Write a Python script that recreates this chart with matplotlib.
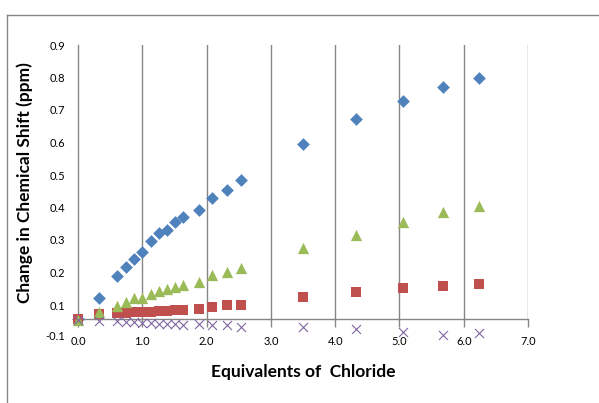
import numpy as np
import matplotlib
matplotlib.use("Agg")
import matplotlib.pyplot as plt
from matplotlib.lines import Line2D

# equivalents of chloride (x) and chemical shift change of each proton (y)
equiv = [0.0, 0.32, 0.60, 0.74, 0.87, 1.00, 1.13, 1.26, 1.38, 1.51, 1.64,
         1.88, 2.09, 2.32, 2.53, 3.50, 4.33, 5.05, 5.68, 6.23]
shift_blue = [0.057, 0.122, 0.188, 0.216, 0.241, 0.263, 0.296, 0.321, 0.331, 0.355,
              0.372, 0.391, 0.430, 0.455, 0.486, 0.595, 0.671, 0.729, 0.772, 0.798]
shift_red = [0.056, 0.072, 0.074, 0.076, 0.077, 0.078, 0.080, 0.082, 0.082, 0.085,
             0.085, 0.088, 0.095, 0.099, 0.101, 0.126, 0.139, 0.153, 0.159, 0.166]
shift_green = [0.055, 0.079, 0.097, 0.109, 0.121, 0.122, 0.134, 0.144, 0.148, 0.156,
               0.162, 0.172, 0.192, 0.201, 0.215, 0.274, 0.315, 0.354, 0.387, 0.405]
shift_purple = [0.055, 0.051, 0.052, 0.049, 0.047, 0.046, 0.044, 0.042, 0.042, 0.041,
                0.039, 0.041, 0.038, 0.037, 0.033, 0.033, 0.026, 0.017, 0.008, 0.013]

xticks = [0, 1, 2, 3, 4, 5, 6, 7]
xtick_labels = ["0.0", "1.0", "2.0", "3.0", "4.0", "5.0", "6.0", "7.0"]
ytick_pos = [0.005, 0.1, 0.2, 0.3, 0.4, 0.5, 0.6, 0.7, 0.8, 0.9]
ytick_labels = ["-0.1", "0.1", "0.2", "0.3", "0.4", "0.5", "0.6", "0.7", "0.8", "0.9"]
axis_cross = 0.057

plt.rcParams['font.family'] = ['Lato', 'DejaVu Sans']
grey = '#868686'

fig = plt.figure(figsize=(5.99, 4.03), dpi=100)
ax = fig.add_axes([78/599, 1-337.5/403, 450/599, (337.5-45)/403])

ax.scatter(equiv, shift_blue, marker='D', s=42, color='#4F81BD', zorder=3, clip_on=False, linewidths=0)
ax.scatter(equiv, shift_red, marker='s', s=60, color='#C0504D', zorder=3, clip_on=False, linewidths=0)
ax.scatter(equiv, shift_green, marker='^', s=66, color='#9BBB59', zorder=3, clip_on=False, linewidths=0)
ax.scatter(equiv, shift_purple, marker='x', s=42, color='#8064A2', zorder=3, clip_on=False, linewidths=0.8)

ax.set_xlim(0, 7)
ax.set_ylim(0.0, 0.9)
for x in xticks[1:]:
  ax.plot([x, x], [axis_cross, 0.9], color=grey, lw=1.0, zorder=1)

ax.spines['top'].set_visible(False)
ax.spines['right'].set_visible(False)
ax.spines['bottom'].set_position(('data', axis_cross))
ax.spines['left'].set_bounds(axis_cross, 0.9)
for s in ['bottom', 'left']:
  ax.spines[s].set_color(grey)
  ax.spines[s].set_linewidth(1.0)

ax.set_xticks(xticks)
ax.set_xticklabels(xtick_labels)
ax.set_yticks(ytick_pos)
ax.set_yticklabels(ytick_labels)
ax.tick_params(axis='x', length=6, width=1.0, color=grey, pad=6, labelsize=8)
ax.tick_params(axis='y', length=0, pad=9, labelsize=8)

fig.text(303/599, 1-372/403, 'Equivalents of  Chloride', ha='center', va='center',
         fontsize=12.5, fontweight='bold')
fig.text(25/599, 1-183/403, 'Change in Chemical Shift (ppm)', ha='center', va='center',
         rotation=90, fontsize=12.5, fontweight='bold')

# chart area border
top = 1-15/403
fig.add_artist(Line2D([7/599, 7/599], [0, top], color=grey, lw=1.0, transform=fig.transFigure))
fig.add_artist(Line2D([7/599, 1], [top, top], color=grey, lw=1.0, transform=fig.transFigure))

fig.savefig('out.png', dpi=100)
